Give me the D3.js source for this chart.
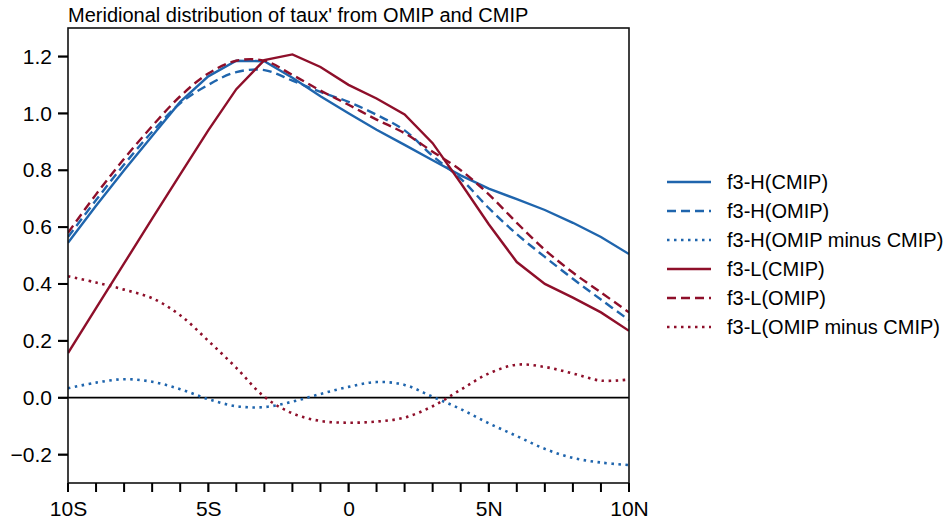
<!DOCTYPE html>
<html>
<head>
<meta charset="utf-8">
<script src="https://cdn.jsdelivr.net/npm/d3@7"></script>
<style>
  body { margin: 0; background: #fff; }
  text { font-family: "Liberation Sans", Arial, Helvetica, sans-serif; }
</style>
</head>
<body>
<div id="chart"></div>
<script>
// latitude, -10 (10S) .. 10 (10N)
var lats = d3.range(-10, 11, 1)

var h_cmip  = [0.545, 0.675, 0.80, 0.92, 1.04, 1.13, 1.185, 1.183, 1.125, 1.06, 1.0, 0.942, 0.889, 0.835, 0.782, 0.735, 0.698, 0.66, 0.615, 0.565, 0.505]
var h_omip  = [0.565, 0.695, 0.82, 0.935, 1.035, 1.10, 1.145, 1.152, 1.115, 1.075, 1.04, 0.995, 0.94, 0.85, 0.77, 0.667, 0.575, 0.495, 0.418, 0.345, 0.273]
var h_diff  = [0.033, 0.053, 0.065, 0.056, 0.03, -0.005, -0.03, -0.033, -0.014, 0.013, 0.038, 0.055, 0.045, 0.003, -0.04, -0.09, -0.135, -0.18, -0.212, -0.228, -0.237]
var l_cmip  = [0.157, 0.315, 0.472, 0.63, 0.785, 0.94, 1.085, 1.187, 1.207, 1.163, 1.10, 1.052, 0.996, 0.895, 0.755, 0.61, 0.477, 0.40, 0.352, 0.30, 0.235]
var l_omip  = [0.58, 0.715, 0.84, 0.955, 1.06, 1.14, 1.185, 1.185, 1.135, 1.08, 1.03, 0.978, 0.93, 0.865, 0.80, 0.715, 0.615, 0.52, 0.44, 0.37, 0.30]
var l_diff  = [0.427, 0.405, 0.38, 0.35, 0.29, 0.20, 0.105, 0.003, -0.055, -0.082, -0.088, -0.084, -0.07, -0.03, 0.028, 0.085, 0.116, 0.108, 0.085, 0.06, 0.064]

var yTicks = [-0.2, 0.0, 0.2, 0.4, 0.6, 0.8, 1.0, 1.2]
var xTicks = [-10, -5, 0, 5, 10]
var xTickLabels = ["10S", "5S", "0", "5N", "10N"]

var blue = "#1f65ad"
var red = "#8e0f2a"

var series = [
    {name: "f3-H(CMIP)", values: h_cmip, color: blue, dash: null, smooth: false},
    {name: "f3-H(OMIP)", values: h_omip, color: blue, dash: "9,5", smooth: true},
    {name: "f3-H(OMIP minus CMIP)", values: h_diff, color: blue, dash: "2.5,4.5", smooth: true},
    {name: "f3-L(CMIP)", values: l_cmip, color: red, dash: null, smooth: false},
    {name: "f3-L(OMIP)", values: l_omip, color: red, dash: "9,5", smooth: true},
    {name: "f3-L(OMIP minus CMIP)", values: l_diff, color: red, dash: "2.5,4.5", smooth: true}
]

var width = 952, height = 522
var plotLeft = 68, plotRight = 629, plotTop = 28, plotBottom = 483

var svg = d3.select("#chart").append("svg")
    .attr("width", width)
    .attr("height", height)

var x = d3.scaleLinear().domain([-10, 10]).range([plotLeft, plotRight])
var y = d3.scaleLinear().domain([-0.3, 1.3]).range([plotBottom, plotTop])

// title
svg.append("text")
    .attr("x", plotLeft)
    .attr("y", 22)
    .style("font-size", "20px")
    .text("Meridional distribution of taux' from OMIP and CMIP")

// zero line
svg.append("line")
    .attr("x1", plotLeft).attr("x2", plotRight)
    .attr("y1", y(0)).attr("y2", y(0))
    .attr("stroke", "#000")
    .attr("stroke-width", 1.8)

var clip = svg.append("clipPath").attr("id", "plotclip")
clip.append("rect").attr("x", plotLeft).attr("y", plotTop).attr("width", plotRight - plotLeft).attr("height", plotBottom - plotTop)

var g = svg.append("g").attr("clip-path", "url(#plotclip)")

series.forEach(function (s) {
    var line = d3.line()
        .x(function (d, i) { return x(lats[i]) })
        .y(function (d) { return y(d) })
        .curve(s.smooth ? d3.curveCatmullRom.alpha(0.5) : d3.curveLinear)
    g.append("path")
        .datum(s.values)
        .attr("d", line)
        .attr("fill", "none")
        .attr("stroke", s.color)
        .attr("stroke-width", s.dash === "2.5,4.5" ? 2.6 : 2.4)
        .attr("stroke-dasharray", s.dash)
})

// frame
svg.append("rect")
    .attr("x", plotLeft).attr("y", plotTop)
    .attr("width", plotRight - plotLeft).attr("height", plotBottom - plotTop)
    .attr("fill", "none")
    .attr("stroke", "#111")
    .attr("stroke-width", 1.6)

// y axis (labels)
var yAxis = d3.axisLeft(y)
    .tickValues(yTicks)
    .tickSize(10)
    .tickPadding(6)
    .tickFormat(function (d) { return d3.format(".1f")(d).replace("-", "\u2212") })
var ya = svg.append("g").attr("transform", "translate(" + plotLeft + ",0)").call(yAxis)
ya.select(".domain").remove()
ya.selectAll(".tick text")
    .style("font-size", "21px")
    .style("fill", "#000")

// x axis (labels)
var xAxis = d3.axisBottom(x)
    .tickValues(xTicks)
    .tickFormat(function (d, i) { return xTickLabels[i] })
    .tickSize(9)
    .tickPadding(9)
var xa = svg.append("g").attr("transform", "translate(0," + plotBottom + ")").call(xAxis)
xa.select(".domain").remove()
xa.selectAll(".tick text").style("font-size", "21px").style("fill", "#000")

// tick marks: every 0.2 on the left, every degree along the bottom
var ticks = svg.append("g")
ticks.selectAll("line.ytick")
    .data(yTicks)
    .enter().append("line")
    .attr("class", "ytick")
    .attr("x1", plotLeft - 10).attr("x2", plotLeft)
    .attr("y1", function (d) { return y(d) })
    .attr("y2", function (d) { return y(d) })
    .attr("stroke", "#000")
    .attr("stroke-width", 2)
ticks.selectAll("line.xtick")
    .data(lats)
    .enter().append("line")
    .attr("class", "xtick")
    .attr("x1", function (d) { return x(d) })
    .attr("x2", function (d) { return x(d) })
    .attr("y1", plotBottom).attr("y2", plotBottom + 9)
    .attr("stroke", "#000")
    .attr("stroke-width", 2)

// legend
var legend = svg.append("g")
series.forEach(function (s, i) {
    var ly = 182 + i * 29
    legend.append("line")
        .attr("x1", 667).attr("x2", 711)
        .attr("y1", ly).attr("y2", ly)
        .attr("stroke", s.color)
        .attr("stroke-width", s.dash === "2.5,4.5" ? 2.6 : 2.4)
        .attr("stroke-dasharray", s.dash)
    legend.append("text")
        .attr("x", 727)
        .attr("y", ly)
        .attr("dy", "0.35em")
        .style("font-size", "20px")
        .text(s.name)
})
</script>
</body>
</html>
